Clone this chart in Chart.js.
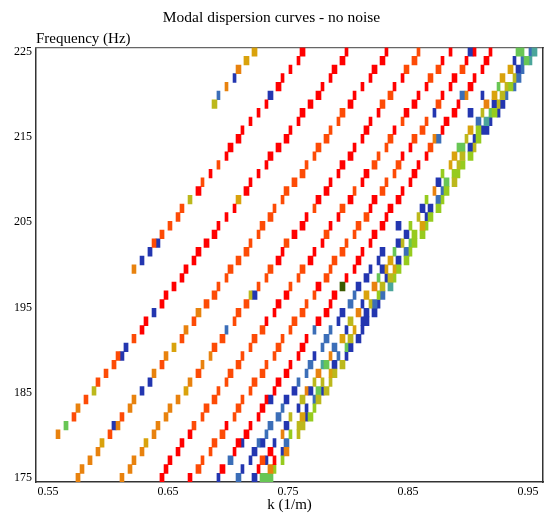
<!DOCTYPE html>
<html><head><meta charset="utf-8">
<script src="https://cdn.jsdelivr.net/npm/chart.js@4.4.1/dist/chart.umd.min.js"></script>
<style>html,body{margin:0;padding:0;background:#fff;}#wrap{width:549px;height:513px;}</style>
</head><body><div id="wrap"><canvas id="c" width="549" height="513"></canvas></div>
<script>
// Tick labels
const freqTicks = [175, 185, 195, 205, 215, 225];
const kTicks = [0.55, 0.65, 0.75, 0.85, 0.95];

// Each row: [frequency (Hz), k0, k1, k0, k1, ...]  (cell extents in 1/m)
const redCells = [
[225, .76,.7642, .7975,.80, .8308,.8333, .8842,.8867, .9042,.9067, .9175,.92],
[223.98, .7575,.76, .7933,.7975, .8267,.8308, .8775,.88, .8975,.90, .9133,.9175],
[222.96, .7508,.7533, .7867,.7908, .82,.8242, .9108,.9133],
[221.94, .7442,.7467, .7842,.7867, .8175,.82, .8442,.8467, .8867,.8908, .9042,.9067],
[220.92, .74,.7442, .7775,.78, .8108,.8133, .8375,.84, .8642,.8667, .8842,.8867, .90,.9042],
[219.90, .7733,.7775, .8042,.8067, .8575,.86, .8775,.88],
[218.88, .7308,.7333, .7667,.7708, .80,.8042, .8533,.8575, .8908,.8933],
[217.86, .7242,.7267, .76,.7642, .8242,.8267, .8467,.8508, .8867,.8908],
[216.84, .7175,.72, .7575,.76, .8175,.82, .88,.8842],
[215.82, .7108,.7133, .7508,.7533, .8133,.8175, .8375,.84, .8775,.88],
[214.80, .7067,.7108, .7467,.7508, .8108,.8133],
[213.78, .70,.7042, .74,.7442, .8042,.8067, .8508,.8533],
[212.76, .6975,.70, .7333,.7375, .80,.8042, .8442,.8467, .8642,.8667],
[211.73, .7308,.7333, .7933,.7975, .8575,.86],
[210.71, .6842,.6867, .7242,.7267, .7908,.7933, .8133,.8175, .8533,.8575],
[209.69, .7175,.72, .7842,.7867, .8108,.8133, .8508,.8533],
[208.67, .6733,.6775, .7133,.7175, .78,.7842, .8442,.8467],
[207.65, .7733,.7775, .80,.8042, .82,.8242, .84,.8442],
[206.63, .7042,.7067, .8175,.82, .8333,.8375],
[205.61, .6975,.70, .7642,.7667, .7908,.7933, .8308,.8333],
[204.59, .6908,.6933, .76,.7642, .7842,.7867, .8267,.8308],
[203.57, .6867,.6908, .7533,.7575, .82,.8242],
[202.55, .68,.6842, .7775,.78, .8175,.82],
[201.53, .6733,.6775, .7442,.7467, .7708,.7733, .8108,.8133],
[200.51, .67,.6733, .74,.7442, .7667,.7708, .8067,.8108],
[199.49, .6633,.6667, .8042,.8067],
[198.47, .66,.6633, .7975,.80],
[197.45, .6533,.6567, .7733,.7775],
[196.43, .6467,.65, .7467,.7508, .7867,.7908],
[195.41, .6433,.6467, .74,.7442, .7842,.7867],
[194.39, .7375,.74, .78,.7842],
[193.37, .63,.6333, .7308,.7333, .7733,.7775],
[192.35, .6267,.63],
[191.33, .7642,.7667],
[190.31, .76,.7642],
[189.29, .7575,.76],
[188.27, .7508,.7533],
[187.24, .7467,.7508],
[186.22, .74,.7442],
[185.20, .7375,.74],
[184.18, .7308,.7333],
[183.16, .7267,.7308],
[182.14, .7242,.7267],
[181.12, .6975,.70, .7175,.72],
[180.10, .6667,.67, .7133,.7175],
[179.08, .66,.6633, .7067,.7108],
[178.06, .6567,.66, .7042,.7067, .7333,.7375],
[177.04, .65,.6533, .7375,.74],
[176.02, .6467,.65, .6933,.6975, .7242,.7267],
[175.00, .6433,.6467, .6667,.67]
];
const orangeRedCells = [
[225, .8575,.86],
[223.98, .8533,.8575],
[222.96, .8467,.8508, .8733,.8775, .8933,.8975],
[221.94, .8667,.8708],
[219.90, .8333,.8375],
[218.88, .8267,.8308, .8733,.8775],
[217.86, .7933,.7975],
[216.84, .7908,.7933, .8442,.8467, .8642,.8667],
[215.82, .7842,.7867, .86,.8642],
[214.80, .78,.7842, .8333,.8375, .8533,.8575],
[213.78, .7733,.7775, .8308,.8333, .8667,.8708],
[212.76, .7708,.7733, .8242,.8267],
[211.73, .6908,.6933, .7642,.7667, .82,.8242, .84,.8442],
[210.71, .76,.7642, .8375,.84],
[209.69, .6775,.68, .7533,.7575, .8308,.8333],
[208.67, .7467,.7508, .8042,.8067, .8267,.8308],
[207.65, .7442,.7467],
[206.63, .66,.6633, .7375,.74, .7708,.7733, .7933,.7975],
[205.61, .6567,.66, .7333,.7375, .8133,.8175],
[204.59, .65,.6533, .7267,.7308, .8067,.8108],
[203.57, .6433,.6467, .7242,.7267, .78,.7842, .8042,.8067],
[202.55, .6367,.64, .7175,.72, .7467,.7508, .7975,.80],
[201.53, .7133,.7175, .7933,.7975],
[200.51, .7067,.7108, .7867,.7908],
[199.49, .70,.7042, .7333,.7375, .76,.7642, .7842,.7867],
[198.47, .6975,.70, .7308,.7333, .7575,.76, .78,.7842],
[197.45, .6908,.6933, .7242,.7267, .7508,.7533],
[196.43, .6867,.6908, .7708,.7733],
[195.41, .68,.6842, .7133,.7175, .7642,.7667],
[194.39, .7067,.7108, .76,.7642],
[193.37, .67,.6733, .7042,.7067, .7533,.7575],
[192.35, .7267,.7308, .7508,.7533],
[191.33, .62,.6233, .66,.6633, .6933,.6975, .72,.7242, .7442,.7467],
[190.31, .6867,.6908, .7175,.72, .74,.7442],
[189.29, .6067,.61, .7108,.7133, .7375,.74],
[188.27, .6033,.6067, .6433,.6467, .7067,.7108, .7308,.7333],
[187.24, .5967,.60, .6733,.6775, .70,.7042, .7267,.7308],
[186.22, .59,.5933, .6975,.70, .72,.7242],
[185.20, .6908,.6933, .7175,.72],
[184.18, .58,.5833, .6867,.6908, .7108,.7133],
[183.16, .68,.6842, .7067,.7108],
[182.14, .57,.5733, .61,.6133, .6775,.68, .7042,.7067],
[181.12, .67,.6733],
[180.10, .60,.6033, .6933,.6975],
[179.08, .6867,.6908],
[178.06, .6842,.6867],
[177.04, .6775,.68, .7267,.7308],
[176.02, .6733,.6775]
];
const orangeCells = [
[222.96, .7067,.7108],
[220.92, .6975,.70],
[219.90, .8975,.90],
[218.88, .9133,.9175],
[214.80, .8708,.8733],
[208.67, .8708,.8733],
[199.49, .62,.6233],
[197.45, .82,.8242],
[194.39, .6733,.6775, .8067,.8108],
[192.35, .6633,.6667],
[189.29, .6467,.65, .6842,.6867, .7842,.7867],
[188.27, .6775,.68],
[187.24, .6367,.64, .7733,.7775],
[186.22, .6667,.67],
[185.20, .7642,.7667],
[184.18, .62,.6233, .6567,.66],
[183.16, .5733,.5767, .6167,.62, .65,.6533],
[182.14, .6467,.65],
[181.12, .6067,.61, .64,.6433],
[180.10, .5567,.56, .6367,.64, .7442,.7467],
[178.06, .59,.5933, .6267,.63, .7467,.7508],
[177.04, .5833,.5867, .62,.6233],
[176.02, .5767,.58, .6167,.62, .7333,.7375],
[175.00, .5733,.5767, .61,.6133]
];
const goldCells = [
[225, .72,.7242],
[223.98, .7133,.7175],
[222.96, .9333,.9375],
[221.94, .9267,.9308],
[219.90, .92,.9242],
[215.82, .90,.9042],
[212.76, .8867,.8908],
[211.73, .8842,.8867],
[207.65, .7067,.7108],
[204.59, .86,.8642],
[200.51, .8333,.8375],
[199.49, .8308,.8333, .8375,.84],
[196.43, .8133,.8175],
[192.35, .8042,.8067],
[191.33, .7933,.7975],
[190.31, .6533,.6567],
[187.24, .7842,.7867],
[185.20, .6633,.6667],
[182.14, .76,.7642],
[179.08, .5933,.5967, .63,.6333]
];
const oliveCells = [
[221.94, .9375,.94],
[220.92, .9308,.9333],
[219.90, .9267,.9308],
[218.88, .6867,.6908, .9242,.9267],
[217.86, .9108,.9133],
[214.80, .8975,.90],
[213.78, .9042,.9067],
[212.76, .8933,.8975],
[211.73, .8908,.8933],
[209.69, .8867,.8908],
[207.65, .6667,.67],
[205.61, .8575,.86],
[202.55, .8442,.8467],
[198.47, .8333,.8375],
[197.45, .8267,.8308],
[196.43, .7175,.72],
[195.41, .8175,.82],
[193.37, .80,.8042],
[191.33, .80,.8042],
[188.27, .7933,.7975],
[187.24, .7867,.7908],
[186.22, .7708,.7733, .7775,.78, .7842,.7867],
[185.20, .5867,.59, .78,.7842],
[184.18, .76,.7642, .7733,.7775],
[182.14, .7508,.7533],
[181.12, .7575,.7642],
[180.10, .7575,.76]
];
const yellowGreenCells = [
[220.92, .9333,.9375],
[217.86, .92,.9242],
[215.82, .9067,.9108],
[214.80, .9067,.9108],
[212.76, .90,.9042],
[211.73, .8933,.8975],
[210.71, .8775,.88, .8867,.8933],
[208.67, .88,.8842],
[207.65, .8642,.8667, .8775,.88],
[206.63, .8733,.8775],
[205.61, .8667,.8708],
[204.59, .8508,.8533, .8642,.8667],
[203.57, .8533,.8575, .86,.8642],
[202.55, .8533,.8575],
[201.53, .8508,.8533],
[200.51, .8467,.8508],
[199.49, .84,.8442],
[198.47, .8375,.84],
[196.43, .8242,.8267],
[183.16, .7708,.7733],
[182.14, .7667,.7708],
[180.10, .7508,.7533],
[177.04, .7442,.7467],
[176.02, .7375,.74]
];
const greenCells = [
[225, .94,.9467],
[223.98, .9467,.9508],
[220.92, .9242,.9267],
[217.86, .9175,.92],
[213.78, .8908,.8975],
[209.69, .88,.8842],
[202.55, .8508,.8533],
[201.53, .8375,.84],
[198.47, .8242,.8267],
[190.31, .7975,.80],
[188.27, .78,.7842],
[185.20, .7733,.7775],
[181.12, .5633,.5667],
[175.00, .7267,.7375]
];
const tealCells = [
[225, .9533,.9575],
[223.98, .9508,.9533],
[216.84, .9133,.9175],
[197.45, .8333,.8375],
[188.27, .7775,.78]
];
const steelBlueCells = [
[225, .9508,.9533],
[223.98, .9442,.9467],
[222.96, .9442,.9467],
[221.94, .94,.9442],
[220.92, .9375,.94],
[219.90, .6908,.6933, .8933,.8975, .9308,.9333],
[216.84, .9067,.9108],
[214.80, .8733,.8775],
[208.67, .8775,.88],
[207.65, .8733,.8775],
[201.53, .8467,.8508],
[196.43, .8042,.8067, .8267,.8308],
[195.41, .80,.8042, .82,.8242],
[192.35, .6975,.70, .7708,.7733, .7842,.7867],
[191.33, .78,.7842],
[190.31, .7775,.78, .7867,.7908],
[189.29, .7908,.7933],
[188.27, .7667,.7708],
[187.24, .7642,.7667],
[186.22, .7575,.76],
[184.18, .7708,.7733],
[183.16, .7442,.7467],
[182.14, .74,.7442],
[181.12, .7333,.7375],
[180.10, .7308,.7333],
[179.08, .7242,.7267, .7467,.7508],
[177.04, .70,.7042],
[175.00, .7067,.7108]
];
const blueCells = [
[225, .90,.9042],
[223.98, .9375,.94],
[222.96, .94,.9442],
[221.94, .7042,.7067],
[219.90, .7333,.7375, .9108,.9133],
[218.88, .92,.9242, .9267,.9308],
[217.86, .8708,.8733, .90,.9042, .9242,.9267],
[216.84, .9175,.92],
[215.82, .9108,.9175],
[214.80, .9042,.9067],
[213.78, .90,.9042],
[209.69, .8733,.8775],
[206.63, .86,.8642, .8667,.8708],
[205.61, .8642,.8667],
[204.59, .84,.8442],
[203.57, .8467,.8508],
[202.55, .64,.6433, .84,.8442],
[201.53, .6333,.6367, .8267,.8308],
[200.51, .6267,.63, .8242,.8267, .84,.8442],
[199.49, .8175,.82, .8267,.8308],
[198.47, .8133,.8175, .8308,.8333],
[197.45, .8067,.8108],
[196.43, .72,.7242],
[195.41, .8108,.8133, .8242,.8267],
[194.39, .6367,.64, .7933,.7975, .8133,.8175, .82,.8242],
[193.37, .7908,.7933, .8108,.8133, .8133,.8175],
[192.35, .7975,.80, .8108,.8133],
[191.33, .8067,.8108],
[190.31, .6133,.6167, .80,.8042],
[189.29, .61,.6133, .7708,.7733, .7975,.80],
[188.27, .7867,.7908],
[186.22, .6333,.6367],
[185.20, .6267,.63, .7533,.7575, .7667,.7708, .7775,.78],
[184.18, .7333,.7375, .7467,.7508],
[183.16, .7575,.76, .7642,.7667],
[182.14, .7642,.7667],
[181.12, .6033,.6067, .7467,.7508],
[179.08, .7108,.7133, .7267,.7308, .7375,.74],
[178.06, .72,.7242, .7442,.7467],
[177.04, .7175,.72, .7308,.7333],
[176.02, .7108,.7133],
[175.00, .6908,.6933, .72,.7242]
];
const darkGreenCells = [
[197.45, .7933,.7975]
];

function toBars(rows) {
  const out = [];
  rows.forEach(r => { for (let i = 1; i < r.length; i += 2) out.push({ y: r[0], x: [r[i], r[i + 1]] }); });
  return out;
}
const series = [
  [redCells, '#ff0000'], [orangeRedCells, '#fd4b06'], [orangeCells, '#e8820e'],
  [goldCells, '#d9a20c'], [oliveCells, '#bcb81c'], [yellowGreenCells, '#96cb1e'],
  [greenCells, '#68c655'], [tealCells, '#4aa59a'], [steelBlueCells, '#3b6eb8'],
  [blueCells, '#2336b0'], [darkGreenCells, '#3b5a00']
];
const serif = "'Liberation Serif', 'DejaVu Serif', serif";

new Chart(document.getElementById('c'), {
  type: 'bar',
  data: {
    datasets: series.map(([rows, col]) => ({
      data: toBars(rows), backgroundColor: col, borderWidth: 0,
      grouped: false, barPercentage: 1, categoryPercentage: 1
    }))
  },
  options: {
    indexAxis: 'y', responsive: false, animation: false, events: [],
    devicePixelRatio: 1,
    layout: { padding: { left: 0, right: 6, top: 0, bottom: 0 } },
    plugins: {
      legend: { display: false }, tooltip: { enabled: false },
      title: { display: true, text: 'Modal dispersion curves - no noise', color: '#000',
        font: { family: serif, size: 15.5, weight: 'normal', lineHeight: 1.2 }, padding: { top: 9, bottom: 2 } },
      subtitle: { display: true, text: 'Frequency (Hz)', align: 'start', fullSize: false, color: '#000',
        font: { family: serif, size: 15, weight: 'normal', lineHeight: 1.2 }, padding: { top: 0, bottom: 0 } }
    },
    scales: {
      x: {
        type: 'linear', position: 'bottom', min: 0.54, max: 0.9625,
        afterBuildTicks: s => { s.ticks = kTicks.map(v => ({ value: v })); },
        afterFit: s => { s.height = 31; },
        ticks: { callback: v => v.toFixed(2), color: '#000', font: { family: serif, size: 12 }, padding: 3, maxRotation: 0, autoSkip: false },
        grid: { display: false, drawTicks: false },
        border: { display: true, color: '#333', width: 1.5 },
        title: { display: true, text: 'k (1/m)', color: '#000', font: { family: serif, size: 15, lineHeight: 1 }, padding: { top: 0, bottom: 0 } }
      },
      y: {
        type: 'linear', position: 'left', min: 174.49, max: 225.51, offset: false,
        afterBuildTicks: s => { s.ticks = freqTicks.map(v => ({ value: v })); },
        afterFit: s => { s.width = 36; },
        ticks: { color: '#000', font: { family: serif, size: 12 }, padding: 4, autoSkip: false },
        grid: { display: false, drawTicks: false },
        border: { display: true, color: '#333', width: 1.5 }
      },
      x2: {
        type: 'linear', position: 'top', min: 0.54, max: 0.9625,
        afterFit: s => { s.height = 0; },
        ticks: { display: false }, grid: { display: false, drawTicks: false },
        border: { display: true, color: '#666', width: 1.2 }
      },
      y2: {
        type: 'linear', position: 'right', min: 174.49, max: 225.51,
        afterFit: s => { s.width = 0; },
        ticks: { display: false }, grid: { display: false, drawTicks: false },
        border: { display: true, color: '#333', width: 1.5 }
      }
    }
  }
});
</script>
</body></html>
